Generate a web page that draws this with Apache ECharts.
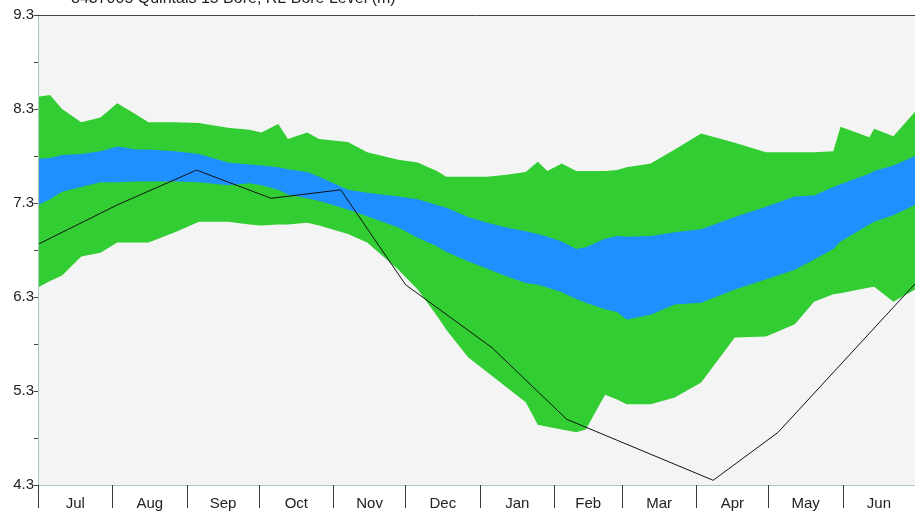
<!DOCTYPE html>
<html>
<head>
<meta charset="utf-8">
<script src="https://cdn.jsdelivr.net/npm/echarts@6/dist/echarts.min.js"></script>
<style>
  html, body { margin: 0; padding: 0; background: #ffffff; }
  #chart { width: 915px; height: 515px; }
</style>
</head>
<body>
<div id="chart"></div>
<script>
// months of the water year, and day offsets where each month starts
var months = ['Jul', 'Aug', 'Sep', 'Oct', 'Nov', 'Dec', 'Jan', 'Feb', 'Mar', 'Apr', 'May', 'Jun'];
var monthStarts = [0, 31, 62, 92, 123, 153, 184, 215, 243, 274, 304, 335, 365];

// y axis ticks / labels
var yTicks = [4.3, 4.8, 5.3, 5.8, 6.3, 6.8, 7.3, 7.8, 8.3, 8.8, 9.3];
var yLabels = [4.3, 5.3, 6.3, 7.3, 8.3, 9.3];

// day of year (from 1 Jul) for the percentile envelopes
var days = [0, 5, 10, 18, 26, 33, 41, 46, 57, 67,
  79, 88, 93, 100, 104, 112, 117, 129, 137, 150,
  158, 166, 170, 179, 187, 195, 203, 208, 212, 218,
  224, 228, 236, 241, 245, 255, 265, 276, 290, 303,
  315, 323, 331, 334, 346, 348, 356, 365];

// outer band top (green)
var outerHigh = [8.43, 8.45, 8.30, 8.16, 8.21, 8.36, 8.24, 8.16, 8.16, 8.15,
  8.10, 8.08, 8.05, 8.14, 7.98, 8.05, 7.98, 7.95, 7.84, 7.76,
  7.73, 7.64, 7.58, 7.58, 7.58, 7.60, 7.63, 7.74, 7.64, 7.72,
  7.64, 7.64, 7.64, 7.65, 7.68, 7.72, 7.87, 8.04, 7.94, 7.84,
  7.84, 7.84, 7.85, 8.11, 8.00, 8.09, 8.01, 8.27];
// inner band top (blue)
var innerHigh = [7.77, 7.78, 7.81, 7.82, 7.85, 7.90, 7.87, 7.87, 7.85, 7.82,
  7.73, 7.71, 7.70, 7.68, 7.66, 7.63, 7.58, 7.44, 7.41, 7.37,
  7.34, 7.28, 7.25, 7.15, 7.09, 7.04, 7.00, 6.97, 6.94, 6.89,
  6.81, 6.83, 6.92, 6.95, 6.94, 6.95, 6.99, 7.02, 7.15, 7.26,
  7.37, 7.38, 7.47, 7.50, 7.61, 7.64, 7.70, 7.80];
// inner band bottom
var innerLow = [7.28, 7.34, 7.42, 7.47, 7.52, 7.52, 7.53, 7.53, 7.53, 7.52,
  7.49, 7.51, 7.49, 7.44, 7.39, 7.35, 7.32, 7.23, 7.16, 7.04,
  6.93, 6.84, 6.78, 6.68, 6.60, 6.52, 6.45, 6.43, 6.40, 6.35,
  6.28, 6.24, 6.17, 6.14, 6.06, 6.11, 6.22, 6.24, 6.38, 6.49,
  6.59, 6.70, 6.81, 6.89, 7.07, 7.10, 7.17, 7.28];
// outer band bottom
var outerLow = [6.40, 6.47, 6.53, 6.73, 6.77, 6.88, 6.88, 6.88, 6.99, 7.10,
  7.10, 7.07, 7.06, 7.07, 7.07, 7.09, 7.06, 6.97, 6.88, 6.59,
  6.38, 6.10, 5.95, 5.66, 5.50, 5.34, 5.18, 4.94, 4.92, 4.89,
  4.86, 4.89, 5.26, 5.21, 5.16, 5.16, 5.23, 5.39, 5.87, 5.88,
  6.01, 6.25, 6.33, 6.34, 6.40, 6.41, 6.25, 6.38];

// observed bore level
var obsDays = [0, 33, 66, 97, 126, 153, 189, 220, 281, 308, 365];
var obsLevel = [6.86, 7.28, 7.65, 7.35, 7.44, 6.43, 5.76, 5.00, 4.35, 4.86, 6.44];

var plotBg = '#f4f4f4';
var font = 'Liberation Sans, Arial, sans-serif';

function pairs(xs, ys) {
  var out = [];
  for (var i = 0; i < xs.length; i++) out.push([xs[i], ys[i]]);
  return out;
}

// label positions in the middle of each month
var monthMids = [];
for (var i = 0; i < months.length; i++) {
  monthMids.push((monthStarts[i] + monthStarts[i + 1]) / 2);
}

// each band edge is filled down to the axis, painted top-down
function fillSeries(ys, color) {
  return {
    type: 'line',
    data: pairs(days, ys),
    showSymbol: false,
    silent: true,
    lineStyle: { width: 0, opacity: 0 },
    areaStyle: { color: color, opacity: 1, origin: 'start' },
    z: 2
  };
}

var chart = echarts.init(document.getElementById('chart'), null, { renderer: 'canvas' });

var option = {
  animation: false,
  backgroundColor: '#ffffff',
  title: {
    text: '8437005 Quintals 15 Bore, RL Bore Level (m)',
    left: 66,
    top: -14,
    textStyle: {
      fontFamily: font,
      fontSize: 16,
      fontWeight: 'normal',
      color: '#222222'
    }
  },
  grid: {
    left: 38,
    top: 15,
    width: 883,
    height: 470,
    show: true,
    backgroundColor: plotBg,
    borderWidth: 0
  },
  xAxis: [{
    type: 'value',
    min: 0,
    max: 365,
    z: 5,
    axisLine: { show: true, lineStyle: { color: '#a9c8c0', width: 1 } },
    axisTick: {
      show: true,
      length: 23,
      customValues: monthStarts,
      lineStyle: { color: '#3a3a3a', width: 1 }
    },
    axisLabel: {
      customValues: monthMids,
      margin: 11,
      fontFamily: font,
      fontSize: 15,
      color: '#222222',
      formatter: function (v) {
        var idx = monthMids.indexOf(v);
        return idx >= 0 ? months[idx] : '';
      }
    },
    splitLine: { show: false }
  }, {
    type: 'value',
    position: 'top',
    min: 0,
    max: 365,
    z: 5,
    axisLine: { show: true, lineStyle: { color: '#444444', width: 1 } },
    axisTick: { show: false },
    axisLabel: { show: false },
    splitLine: { show: false }
  }],
  yAxis: {
    type: 'value',
    min: 4.3,
    max: 9.3,
    z: 5,
    axisLine: { show: true, lineStyle: { color: '#a9c8c0', width: 1 } },
    axisTick: {
      show: true,
      length: 4,
      customValues: yTicks,
      lineStyle: { color: '#444444' }
    },
    axisLabel: {
      customValues: yLabels,
      margin: 4,
      fontFamily: font,
      fontSize: 15,
      color: '#222222',
      formatter: function (v) { return v.toFixed(1); }
    },
    splitLine: { show: false }
  },
  series: [
    fillSeries(outerHigh, '#32cd32'),
    fillSeries(innerHigh, '#1e90ff'),
    fillSeries(innerLow, '#32cd32'),
    fillSeries(outerLow, plotBg),
    {
      type: 'line',
      data: pairs(obsDays, obsLevel),
      showSymbol: false,
      silent: true,
      lineStyle: { color: '#111111', width: 1 },
      z: 4
    }
  ]
};

chart.setOption(option);
</script>
</body>
</html>
